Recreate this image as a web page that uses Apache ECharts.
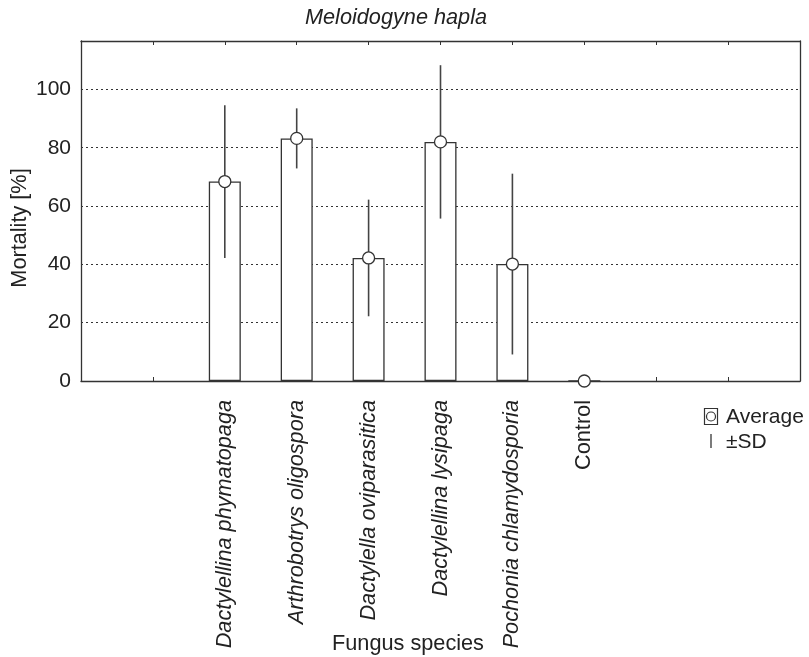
<!DOCTYPE html>
<html>
<head>
<meta charset="utf-8">
<script src="https://cdn.jsdelivr.net/npm/echarts@6/dist/echarts.min.js"></script>
<style>html,body{margin:0;padding:0;background:#fff;}#c{width:809px;height:657px;}</style>
</head>
<body>
<div id="c"></div>
<script>
const categories = ['Dactylellina phymatopaga', 'Arthrobotrys oligospora', 'Dactylella oviparasitica', 'Dactylellina lysipaga', 'Pochonia chlamydosporia', 'Control'];
const averages = [68.4, 83.2, 42.2, 82.0, 40.1, 0];
const sds = [26.2, 10.3, 20.0, 26.3, 31.0, 0];
const yTicks = [0, 20, 40, 60, 80, 100];
const leadPad = 2, tailPad = 3;

const FONT = '"Liberation Sans", Arial, sans-serif';
const INK = '#222';
const FS = 21.7;
const axisData = Array(leadPad).fill('').concat(categories, Array(tailPad).fill(''));
const pos = categories.map((c, i) => axisData.indexOf(c));

const chart = echarts.init(document.getElementById('c'));
chart.setOption({
  animation: false,
  backgroundColor: '#fff',
  grid: { left: 81, top: 41, right: 9, bottom: 276, containLabel: false },
  xAxis: [{
    type: 'category', data: axisData, boundaryGap: false,
    axisLine: { onZero: false, lineStyle: { color: '#333', width: 1.3 } },
    axisTick: { show: true, inside: true, length: 4, interval: 0, lineStyle: { color: '#333' } },
    axisLabel: {
      interval: 0, rotate: 90, margin: 19, color: INK, fontFamily: FONT, fontSize: FS,
      formatter: v => v === '' ? '' : (v === 'Control' ? '{n|' + v + '}' : '{i|' + v + '}'),
      rich: {
        i: { fontStyle: 'italic', fontFamily: FONT, fontSize: FS, color: INK },
        n: { fontStyle: 'normal', fontFamily: FONT, fontSize: FS, color: INK }
      }
    },
    splitLine: { show: false }
  }, {
    type: 'category', data: axisData, boundaryGap: false, position: 'top',
    axisLine: { onZero: false, lineStyle: { color: '#333', width: 1.3 } },
    axisTick: { show: true, inside: true, length: 4, interval: 0, lineStyle: { color: '#333' } },
    axisLabel: { show: false }, splitLine: { show: false }
  }],
  yAxis: [{
    type: 'value', min: 0, max: 116.6, interval: 20,
    axisLine: { show: true, onZero: false, lineStyle: { color: '#333', width: 1.3 } },
    axisTick: { show: false },
    axisLabel: { color: INK, fontFamily: FONT, fontSize: 21, margin: 10, showMaxLabel: false,
      formatter: v => yTicks.indexOf(v) >= 0 ? String(v) : '' },
    splitLine: { show: true, lineStyle: { color: '#333', type: [2, 3], width: 1 } }
  }, {
    type: 'value', min: 0, max: 116.6, interval: 20, position: 'right',
    axisLine: { show: true, onZero: false, lineStyle: { color: '#333', width: 1.3 } },
    axisTick: { show: false }, axisLabel: { show: false }, splitLine: { show: false }
  }],
  series: [{
    type: 'bar', xAxisIndex: 0, yAxisIndex: 0, barWidth: 32,
    data: averages.map((v, i) => [pos[i], v]),
    itemStyle: { color: '#fff', borderColor: '#333', borderWidth: 1.3 },
    z: 2
  }, {
    type: 'custom', xAxisIndex: 0, yAxisIndex: 0,
    data: averages.map((v, i) => [pos[i], v - sds[i], v + sds[i]]),
    renderItem: (params, api) => {
      if (api.value(2) === api.value(1)) return null;
      const lo = api.coord([api.value(0), api.value(1)]);
      const hi = api.coord([api.value(0), api.value(2)]);
      return { type: 'line', shape: { x1: lo[0], y1: lo[1], x2: hi[0], y2: hi[1] },
        style: { stroke: '#444', lineWidth: 1.6 } };
    },
    z: 3
  }, {
    type: 'scatter', xAxisIndex: 0, yAxisIndex: 0, symbol: 'circle', symbolSize: 12,
    data: averages.map((v, i) => [pos[i], v]),
    itemStyle: { color: '#fff', borderColor: '#333', borderWidth: 1.3, opacity: 1 },
    clip: false,
    z: 4
  }],
  graphic: [
    { type: 'text', x: 396, y: 18, style: { text: 'Meloidogyne hapla', fontFamily: FONT, fontSize: FS, fontStyle: 'italic', fill: INK, align: 'center', verticalAlign: 'middle' } },
    { type: 'text', x: 20, y: 228, rotation: Math.PI / 2, style: { text: 'Mortality [%]', fontFamily: FONT, fontSize: FS, fill: INK, align: 'center', verticalAlign: 'middle' } },
    { type: 'text', x: 408, y: 644, style: { text: 'Fungus species', fontFamily: FONT, fontSize: FS, fill: INK, align: 'center', verticalAlign: 'middle' } },
    { type: 'rect', shape: { x: 704.5, y: 408.5, width: 13, height: 16 }, style: { fill: '#fff', stroke: '#333', lineWidth: 1.2 } },
    { type: 'circle', shape: { cx: 711, cy: 416.5, r: 4.5 }, style: { fill: '#fff', stroke: '#333', lineWidth: 1.2 } },
    { type: 'text', x: 726, y: 417, style: { text: 'Average', fontFamily: FONT, fontSize: 21, fill: INK, align: 'left', verticalAlign: 'middle' } },
    { type: 'line', shape: { x1: 711, y1: 434, x2: 711, y2: 448 }, style: { stroke: '#444', lineWidth: 1.4 } },
    { type: 'text', x: 726, y: 442, style: { text: '±SD', fontFamily: FONT, fontSize: 21, fill: INK, align: 'left', verticalAlign: 'middle' } }
  ]
});
</script>
</body>
</html>
